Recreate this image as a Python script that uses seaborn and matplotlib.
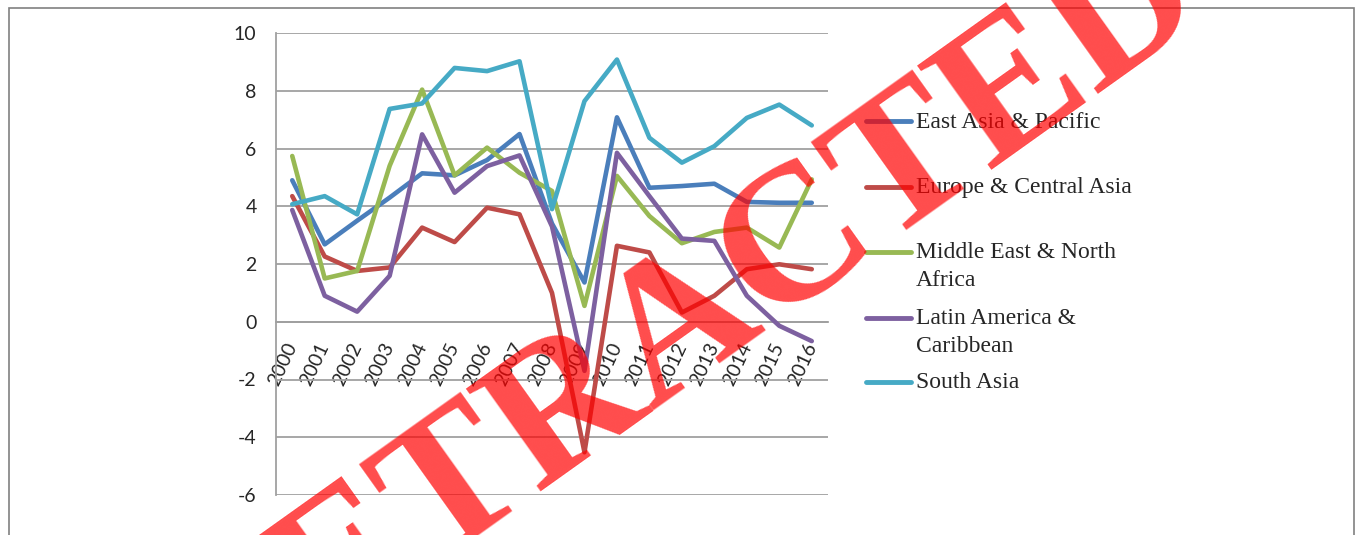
import matplotlib
matplotlib.use('Agg')
import matplotlib.pyplot as plt
import matplotlib.patches as patches
from matplotlib.lines import Line2D
import seaborn as sns
import pandas as pd

# Values (annual % growth by region)
years = list(range(2000, 2017))
east_asia = [4.9, 2.68, 3.5, 4.3, 5.14, 5.07, 5.6, 6.5, 3.4, 1.36, 7.08, 4.64, 4.7, 4.78, 4.15, 4.12, 4.12]
europe = [4.35, 2.26, 1.76, 1.88, 3.26, 2.76, 3.95, 3.72, 1.0, -4.52, 2.63, 2.4, 0.32, 0.9, 1.82, 1.99, 1.82]
mena = [5.74, 1.5, 1.76, 5.4, 8.04, 5.07, 6.03, 5.16, 4.53, 0.55, 5.05, 3.66, 2.72, 3.11, 3.26, 2.57, 4.93]
latam = [3.87, 0.9, 0.35, 1.59, 6.49, 4.47, 5.39, 5.76, 3.3, -1.7, 5.85, 4.35, 2.88, 2.8, 0.9, -0.14, -0.67]
south_asia = [4.07, 4.35, 3.72, 7.37, 7.56, 8.79, 8.68, 9.02, 3.9, 7.64, 9.08, 6.37, 5.51, 6.08, 7.06, 7.52, 6.8]

regions = ['East Asia & Pacific', 'Europe & Central Asia', 'Middle East & North\nAfrica',
           'Latin America &\nCaribbean', 'South Asia']
colors = ['#4A7EBB', '#BE4B48', '#98B954', '#7D60A0', '#46AAC5']
y_ticks = [-6, -4, -2, 0, 2, 4, 6, 8, 10]

W, H = 1357, 535

def fx(x):
    return x / W

def fy(y):
    return 1 - y / H

rows = []
for name, vals in zip(regions, [east_asia, europe, mena, latam, south_asia]):
    for yr, v in zip(years, vals):
        rows.append({'Year': yr, 'Value': v, 'Region': name})
df = pd.DataFrame(rows)

sns.set_style('white')
plt.rcParams['font.family'] = ['Lato', 'DejaVu Sans']

fig = plt.figure(figsize=(W / 100, H / 100), dpi=100)
ax = fig.add_axes([fx(276), fy(495), fx(828) - fx(276), fy(33) - fy(495)])

sns.lineplot(data=df, x='Year', y='Value', hue='Region', hue_order=regions,
             palette=colors, linewidth=3.3, legend=False, ax=ax)
for ln in ax.get_lines():
    ln.set_solid_joinstyle('round')
    ln.set_solid_capstyle('round')
    ln.set_zorder(3)

grid_col = '#A0A0A0'
ax.set_xlim(years[0] - 0.5, years[-1] + 0.5)
ax.set_ylim(-6, 10)
ax.set_yticks(y_ticks)
ax.set_yticklabels([str(t) for t in y_ticks])
ax.set_xticks(years)
ax.set_xticklabels([str(y) for y in years])
ax.set_xticks([years[0] - 0.5 + k for k in range(len(years) + 1)], minor=True)
ax.grid(axis='y', color=grid_col, linewidth=1.3, zorder=0)
ax.set_axisbelow(True)
ax.set_xlabel('')
ax.set_ylabel('')

for s in ['top', 'right']:
    ax.spines[s].set_visible(False)
ax.spines['bottom'].set_position(('data', 0))
ax.spines['bottom'].set_color(grid_col)
ax.spines['bottom'].set_linewidth(1.3)
ax.spines['left'].set_color(grid_col)
ax.spines['left'].set_linewidth(1.3)

ax.tick_params(axis='y', length=5, width=1.3, color=grid_col, pad=9, labelsize=14)
ax.tick_params(axis='x', which='major', length=0, pad=16, labelsize=14, labelrotation=65)
ax.tick_params(axis='x', which='minor', length=5, width=1.3, color=grid_col, direction='out')
for lab in ax.get_xticklabels():
    lab.set_ha('right')
    lab.set_va('center')
    lab.set_rotation_mode('anchor')

# legend drawn by hand so each handle sits on the first line of its label
leg_y = [121, 187, 252, 318, 382]
for name, col, yy in zip(regions, colors, leg_y):
    fig.add_artist(Line2D([fx(866), fx(911)], [fy(yy), fy(yy)], color=col,
                          linewidth=3.5, solid_capstyle='round', transform=fig.transFigure))
    for i, part in enumerate(name.split('\n')):
        fig.text(fx(916), fy(yy + 1 + i * 27), part, fontsize=17, family='Liberation Serif',
                 ha='left', va='center')

# outer frame
fig.add_artist(patches.Rectangle((fx(9), fy(560)), fx(1354) - fx(9), fy(8) - fy(560),
                                 fill=False, edgecolor='#808080', linewidth=1.2,
                                 transform=fig.transFigure))

# retraction stamp
fig.text(fx(710), fy(368), 'RETRACTED', fontsize=141, family='Liberation Serif',
         weight='bold', color='red', alpha=0.7, rotation=35.5, rotation_mode='anchor',
         ha='center', va='baseline', zorder=10)

fig.savefig('out.png', dpi=100)
